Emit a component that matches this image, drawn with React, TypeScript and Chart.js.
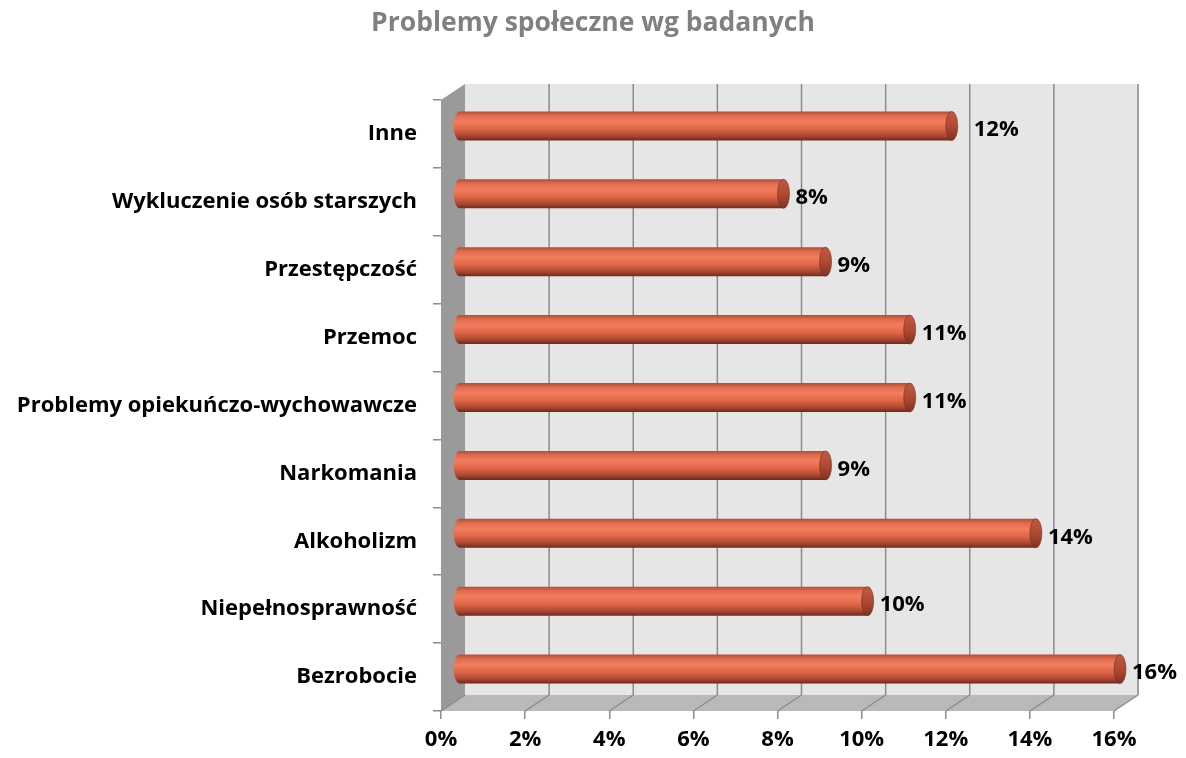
import React, { useEffect, useRef } from 'react';
import { Chart, registerables } from 'chart.js';

Chart.register(...registerables);

const chartTitle = 'Problemy społeczne wg badanych';
const categories = [
  'Inne',
  'Wykluczenie osób starszych',
  'Przestępczość',
  'Przemoc',
  'Problemy opiekuńczo-wychowawcze',
  'Narkomania',
  'Alkoholizm',
  'Niepełnosprawność',
  'Bezrobocie',
];
const values = [12, 8, 9, 11, 11, 9, 14, 10, 16];
const labelGaps = [16, 6, 6, 6, 6, 6, 6, 6, 6];
const xMin = 0;
const xMax = 16;
const xStep = 2;

const FONT = '"Open Sans", Lato, "DejaVu Sans", sans-serif';
const DX = 24;
const DY = 16;

const wallPlugin = {
  id: 'wall3d',
  beforeDatasetsDraw(chart: any) {
    const { ctx, chartArea } = chart;
    const { left, right, top, bottom } = chartArea;
    const xs = chart.scales.x;
    ctx.save();
    ctx.fillStyle = '#e6e6e6';
    ctx.fillRect(left + DX, top - DY, right - left, bottom - top);
    ctx.strokeStyle = '#d0d0d0';
    ctx.lineWidth = 1;
    ctx.beginPath();
    ctx.moveTo(right + DX + 0.5, top - DY);
    ctx.lineTo(right + DX + 0.5, bottom - DY);
    ctx.stroke();
    ctx.fillStyle = '#9a9a9a';
    ctx.beginPath();
    ctx.moveTo(left, top);
    ctx.lineTo(left + DX, top - DY);
    ctx.lineTo(left + DX, bottom - DY);
    ctx.lineTo(left, bottom);
    ctx.closePath();
    ctx.fill();
    ctx.fillStyle = '#b9b9b9';
    ctx.beginPath();
    ctx.moveTo(left, bottom);
    ctx.lineTo(right, bottom);
    ctx.lineTo(right + DX, bottom - DY);
    ctx.lineTo(left + DX, bottom - DY);
    ctx.closePath();
    ctx.fill();
    ctx.strokeStyle = '#8c8c8c';
    ctx.lineWidth = 1.5;
    xs.ticks.forEach((t: any) => {
      const x = xs.getPixelForValue(t.value);
      ctx.beginPath();
      if (t.value !== xMin) {
        ctx.moveTo(x + DX, top - DY);
        ctx.lineTo(x + DX, bottom - DY);
      }
      ctx.moveTo(x + DX, bottom - DY);
      ctx.lineTo(x, bottom);
      ctx.stroke();
    });
    ctx.restore();
  },
  afterDatasetsDraw(chart: any) {
    const { ctx } = chart;
    const meta = chart.getDatasetMeta(0);
    const h = 29;
    const rx = 6;
    ctx.save();
    meta.data.forEach((el: any, i: number) => {
      const x0 = el.base + DX / 2;
      const x1 = el.x + DX / 2 - rx;
      const cy = el.y - DY / 2;
      const y0 = cy - h / 2;
      const g = ctx.createLinearGradient(0, y0, 0, y0 + h);
      g.addColorStop(0, '#b24c35');
      g.addColorStop(0.15, '#e26c4e');
      g.addColorStop(0.35, '#f27e5f');
      g.addColorStop(0.6, '#e06647');
      g.addColorStop(0.85, '#a9462f');
      g.addColorStop(1, '#6b2a1c');
      ctx.fillStyle = g;
      ctx.beginPath();
      ctx.moveTo(x0 + rx, y0);
      ctx.lineTo(x1, y0);
      ctx.lineTo(x1, y0 + h);
      ctx.lineTo(x0 + rx, y0 + h);
      ctx.ellipse(x0 + rx, cy, rx, h / 2, 0, Math.PI / 2, (Math.PI * 3) / 2);
      ctx.closePath();
      ctx.fill();
      const g2 = ctx.createLinearGradient(0, y0, 0, y0 + h);
      g2.addColorStop(0, '#c25a40');
      g2.addColorStop(0.5, '#b04a33');
      g2.addColorStop(1, '#7e3322');
      ctx.fillStyle = g2;
      ctx.beginPath();
      ctx.ellipse(x1, cy, rx, h / 2, 0, 0, Math.PI * 2);
      ctx.fill();
      ctx.strokeStyle = 'rgba(120,45,30,0.6)';
      ctx.lineWidth = 1;
      ctx.stroke();
      ctx.fillStyle = '#000';
      ctx.font = 'bold 22px ' + FONT;
      ctx.textAlign = 'left';
      ctx.textBaseline = 'middle';
      ctx.fillText(values[i] + '%', x1 + rx + labelGaps[i], cy + 4);
    });
    ctx.restore();
  },
  afterDraw(chart: any) {
    const { ctx, width } = chart;
    ctx.save();
    ctx.fillStyle = '#808080';
    ctx.font = 'bold 26.5px ' + FONT;
    ctx.textAlign = 'center';
    ctx.textBaseline = 'middle';
    ctx.fillText(chartTitle, width / 2, 23);
    ctx.restore();
  },
};

export default function App() {
  const ref = useRef<HTMLCanvasElement>(null);
  useEffect(() => {
    const chart = new Chart(ref.current as HTMLCanvasElement, {
      type: 'bar',
      data: {
        labels: categories,
        datasets: [
          {
            data: values,
            backgroundColor: 'rgba(0,0,0,0)',
            borderWidth: 0,
            barThickness: 28,
          },
        ],
      },
      options: {
        indexAxis: 'y',
        animation: false,
        responsive: false,
        layout: { padding: { left: 0, right: 72, top: 100, bottom: 0 } },
        plugins: {
          legend: { display: false },
          tooltip: { enabled: false },
          title: { display: false },
        },
        scales: {
          x: {
            min: xMin,
            max: xMax,
            ticks: {
              stepSize: xStep,
              callback: (v: any) => v + '%',
              color: '#000',
              font: { family: FONT, size: 22, weight: 'bold' },
              padding: 8,
              maxRotation: 0,
            },
            grid: { drawOnChartArea: false, drawTicks: true, tickLength: 8, color: '#8c8c8c', lineWidth: 1.5 },
            border: { display: false },
            afterFit: (s: any) => {
              s.height = 47;
            },
          },
          y: {
            ticks: {
              color: '#000',
              font: { family: FONT, size: 22, weight: 'bold' },
              padding: 16,
            },
            grid: { drawOnChartArea: false, drawTicks: true, tickLength: 8, color: '#8c8c8c', lineWidth: 1.5 },
            border: { display: false },
            afterFit: (s: any) => {
              s.width = 441;
            },
          },
        },
      },
      plugins: [wallPlugin],
    });
    return () => chart.destroy();
  }, []);
  return (
    <div style={{ position: 'absolute', left: 0, top: 0, width: 1186, height: 758, background: '#fff' }}>
      <canvas ref={ref} width={1186} height={758} style={{ width: 1186, height: 758 }} />
    </div>
  );
}
